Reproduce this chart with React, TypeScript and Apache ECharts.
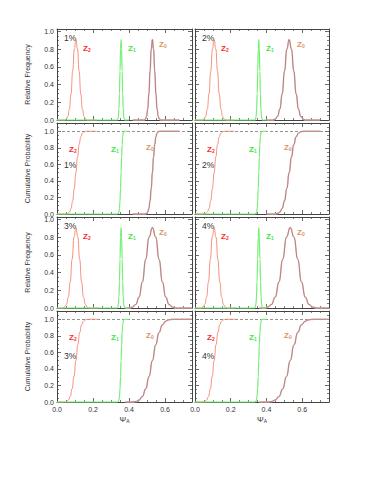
import React, { useEffect, useRef } from 'react';
import * as echarts from 'echarts';

// Noise levels (one per column/row-pair)
const noiseLabels = ['1%', '2%', '3%', '4%'];

// Shared normalised shapes (peak ~0.91)
const freqShape = [0, 0, 0.010, 0.040, 0.123, 0.295, 0.552, 0.803, 0.910, 0.803, 0.552, 0.295, 0.123, 0.040, 0.010, 0, 0];
const cdfShape = [0, 0, 0.001, 0.006, 0.023, 0.067, 0.159, 0.309, 0.500, 0.691, 0.841, 0.933, 0.977, 0.994, 0.999, 1, 1];

// Psi_A sample positions for each redshift component and noise level
const z2X1 = [0, 0.042, 0.051, 0.060, 0.069, 0.078, 0.087, 0.096, 0.105, 0.114, 0.123, 0.132, 0.141, 0.150, 0.159, 0.168, 0.22];
const z1X1 = [0, 0.335, 0.338, 0.341, 0.344, 0.347, 0.350, 0.353, 0.356, 0.359, 0.362, 0.365, 0.368, 0.371, 0.374, 0.377, 0.40];
const z0X1 = [0.42, 0.4845, 0.491, 0.4975, 0.504, 0.5105, 0.517, 0.5235, 0.530, 0.5365, 0.543, 0.5495, 0.556, 0.5625, 0.569, 0.5755, 0.68];

const z2X2 = [0, 0.0405, 0.050, 0.0595, 0.069, 0.0785, 0.088, 0.0975, 0.107, 0.1165, 0.126, 0.1355, 0.145, 0.1545, 0.164, 0.1735, 0.22];
const z1X2 = [0, 0.336, 0.339, 0.342, 0.345, 0.348, 0.351, 0.354, 0.357, 0.360, 0.363, 0.366, 0.369, 0.372, 0.375, 0.378, 0.40];
const z0X2 = [0.40, 0.436, 0.449, 0.462, 0.475, 0.488, 0.501, 0.514, 0.527, 0.540, 0.553, 0.566, 0.579, 0.592, 0.605, 0.618, 0.70];

const z2X3 = [0, 0.0315, 0.042, 0.0525, 0.063, 0.0735, 0.084, 0.0945, 0.105, 0.1155, 0.126, 0.1365, 0.147, 0.1575, 0.168, 0.1785, 0.23];
const z1X3 = [0, 0.335, 0.338, 0.341, 0.344, 0.347, 0.350, 0.353, 0.356, 0.359, 0.362, 0.365, 0.368, 0.371, 0.374, 0.377, 0.40];
const z0X3 = [0.38, 0.4005, 0.419, 0.4375, 0.456, 0.4745, 0.493, 0.5115, 0.530, 0.5485, 0.567, 0.5855, 0.604, 0.6225, 0.641, 0.6595, 0.75];

const z2X4 = [0, 0.0335, 0.044, 0.0545, 0.065, 0.0755, 0.086, 0.0965, 0.107, 0.1175, 0.128, 0.1385, 0.149, 0.1595, 0.170, 0.1805, 0.23];
const z1X4 = [0, 0.334, 0.3375, 0.341, 0.344, 0.347, 0.3505, 0.354, 0.357, 0.360, 0.3635, 0.367, 0.370, 0.373, 0.3765, 0.380, 0.40];
const z0X4 = [0.36, 0.386, 0.407, 0.428, 0.449, 0.470, 0.491, 0.512, 0.533, 0.554, 0.575, 0.596, 0.617, 0.638, 0.659, 0.680, 0.75];

const z2Xs = [z2X1, z2X2, z2X3, z2X4];
const z1Xs = [z1X1, z1X2, z1X3, z1X4];
const z0Xs = [z0X1, z0X2, z0X3, z0X4];

const xTicks = { min: 0, max: 0.75, interval: 0.2 };
const freqY = { min: 0, max: 1.03, interval: 0.2 };
const cumY = { min: 0, max: 1.1, interval: 0.2 };
const yNames = ['Relative Frequency', 'Cumulative Probability'];

// layout
const colLeft = [57, 195];
const colWidth = [135, 134];
const rowTop = [29, 123, 217, 311];
const rowH = 91;

const FONT = '"Liberation Sans", Arial, Helvetica, sans-serif';
const AXIS_COLOR = '#444';
const C_Z2 = '#f4866e';
const C_Z1 = '#74ee74';
const C_Z0_HALO = '#ebbcbc';
const C_Z0_CORE = '#8a5a5a';
const L_Z2 = '#ff2a2a';
const L_Z1 = '#3ee63e';
const L_Z0 = '#d8956c';

const zip = (xs: number[], ys: number[]) => xs.map((x, i) => [x, ys[i]]);

function buildOption() {
  const grids: any[] = [];
  const xAxes: any[] = [];
  const yAxes: any[] = [];
  const series: any[] = [];
  const graphics: any[] = [];

  for (let row = 0; row < 4; row++) {
    for (let col = 0; col < 2; col++) {
      const g = row * 2 + col;
      const isCum = row % 2 === 1;
      const yr = isCum ? cumY : freqY;
      grids.push({ left: colLeft[col], top: rowTop[row], width: colWidth[col], height: rowH, containLabel: false });
      const tickCommon = {
        axisLine: { show: true, onZero: false, lineStyle: { color: AXIS_COLOR, width: 1 } },
        axisTick: { show: true, inside: true, length: 4, lineStyle: { color: AXIS_COLOR, width: 0.8 } },
        minorTick: { show: true, splitNumber: 4, length: 2, lineStyle: { color: AXIS_COLOR, width: 0.7 } },
        splitLine: { show: false },
        minorSplitLine: { show: false },
      };
      xAxes.push({
        gridIndex: g, type: 'value', position: 'bottom', ...xTicks, ...tickCommon,
        axisLabel: {
          show: row === 3, fontSize: 7, color: '#333', margin: 4, fontFamily: FONT,
          showMaxLabel: false, showMinLabel: true,
          formatter: (v: number) => v.toFixed(1),
        },
      });
      xAxes.push({
        gridIndex: g, type: 'value', position: 'top', ...xTicks, ...tickCommon,
        axisLabel: { show: false },
      });
      yAxes.push({
        gridIndex: g, type: 'value', position: 'left', ...yr, ...tickCommon,
        axisLabel: {
          show: col === 0, fontSize: 7, color: '#333', margin: 3, fontFamily: FONT,
          showMaxLabel: false, showMinLabel: true,
          formatter: (v: number) => v.toFixed(1),
        },
      });
      yAxes.push({
        gridIndex: g, type: 'value', position: 'right', ...yr, ...tickCommon,
        axisLabel: { show: false },
      });

      if (col === 0) {
        graphics.push({
          type: 'text', x: 27, y: rowTop[row] + rowH / 2, rotation: Math.PI / 2,
          style: { text: yNames[row % 2], fontSize: 7, fill: '#333', font: `7px ${FONT}`, textAlign: 'center', textVerticalAlign: 'middle' },
        });
      }
      if (row === 3) {
        graphics.push({
          type: 'text', x: colLeft[col] + colWidth[col] / 2, y: 419,
          style: {
            text: '{a|Ψ}{b|A}', textAlign: 'center', textVerticalAlign: 'middle',
            rich: {
              a: { fontSize: 8, fill: '#333', fontFamily: FONT, verticalAlign: 'bottom' },
              b: { fontSize: 5, fill: '#333', fontFamily: FONT, verticalAlign: 'bottom' },
            },
          },
        });
      }
    }
  }

  const zLabel = (x: number, y: number, sub: string, color: string) => ({
    type: 'text', x, y,
    style: {
      text: `{a|Z}{b|${sub}}`, textAlign: 'left', textVerticalAlign: 'middle',
      rich: {
        a: { fontSize: 8, fontWeight: 'bold', fill: color, fontFamily: FONT, verticalAlign: 'bottom' },
        b: { fontSize: 5, fontWeight: 'bold', fill: color, fontFamily: FONT, verticalAlign: 'bottom' },
      },
    },
  });
  const pctLabel = (x: number, y: number, t: string) => ({
    type: 'text', x, y,
    style: { text: t, fontSize: 8.5, fontWeight: 'normal', fill: '#333', fontFamily: FONT, textAlign: 'left', textVerticalAlign: 'middle' },
  });

  for (let L = 0; L < 4; L++) {
    const col = L % 2;
    const freqRow = L < 2 ? 0 : 2;
    const cumRow = freqRow + 1;
    const gF = freqRow * 2 + col;
    const gC = cumRow * 2 + col;
    const x0 = colLeft[col];

    const lineBase = { type: 'line', showSymbol: false, symbol: 'none', smooth: 0.5, smoothMonotone: 'x', clip: false, silent: true, animation: false };
    const add = (g: number, shape: number[], withRef: boolean) => {
      series.push({
        ...lineBase, xAxisIndex: 2 * g, yAxisIndex: 2 * g, z: 2,
        data: zip(z2Xs[L], shape), lineStyle: { color: C_Z2, width: 0.9 },
        ...(withRef ? {
          markLine: {
            silent: true, z: 1, symbol: ['none', 'none'], label: { show: false },
            lineStyle: { type: [3, 2], color: '#777', width: 0.8 },
            data: [{ yAxis: 1 }],
          },
        } : {}),
      });
      series.push({ ...lineBase, xAxisIndex: 2 * g, yAxisIndex: 2 * g, z: 2, data: zip(z0Xs[L], shape), lineStyle: { color: C_Z0_HALO, width: 1.6 } });
      series.push({ ...lineBase, xAxisIndex: 2 * g, yAxisIndex: 2 * g, z: 3, data: zip(z0Xs[L], shape), lineStyle: { color: C_Z0_CORE, width: 0.6 } });
      series.push({ ...lineBase, xAxisIndex: 2 * g, yAxisIndex: 2 * g, z: 4, data: zip(z1Xs[L], shape), lineStyle: { color: C_Z1, width: 1.2 } });
    };
    add(gF, freqShape, false);
    add(gC, cdfShape, true);

    const tF = rowTop[freqRow];
    const tC = rowTop[cumRow];
    graphics.push(pctLabel(x0 + 7, tF + 9, noiseLabels[L]));
    graphics.push(zLabel(x0 + 26, tF + 19, '2', L_Z2));
    graphics.push(zLabel(x0 + 71, tF + 19, '1', L_Z1));
    graphics.push(zLabel(x0 + 102, tF + 15, '0', L_Z0));

    graphics.push(zLabel(x0 + 12, tC + 26, '2', L_Z2));
    graphics.push(pctLabel(x0 + 7, tC + (cumRow === 1 ? 42 : 45), noiseLabels[L]));
    graphics.push(zLabel(x0 + 54, tC + 26, '1', L_Z1));
    graphics.push(zLabel(x0 + 89, tC + 24, '0', L_Z0));
  }

  return {
    animation: false,
    backgroundColor: '#ffffff',
    textStyle: { fontFamily: FONT },
    grid: grids,
    xAxis: xAxes,
    yAxis: yAxes,
    series,
    graphic: graphics,
  };
}

export default function App() {
  const ref = useRef<HTMLDivElement>(null);
  useEffect(() => {
    if (!ref.current) return;
    const chart = echarts.init(ref.current, undefined, { renderer: 'svg' });
    chart.setOption(buildOption() as any);
    return () => chart.dispose();
  }, []);
  return (
    <div
      ref={ref}
      style={{ position: 'fixed', left: 0, top: 0, width: 374, height: 484, background: '#fff' }}
    />
  );
}
